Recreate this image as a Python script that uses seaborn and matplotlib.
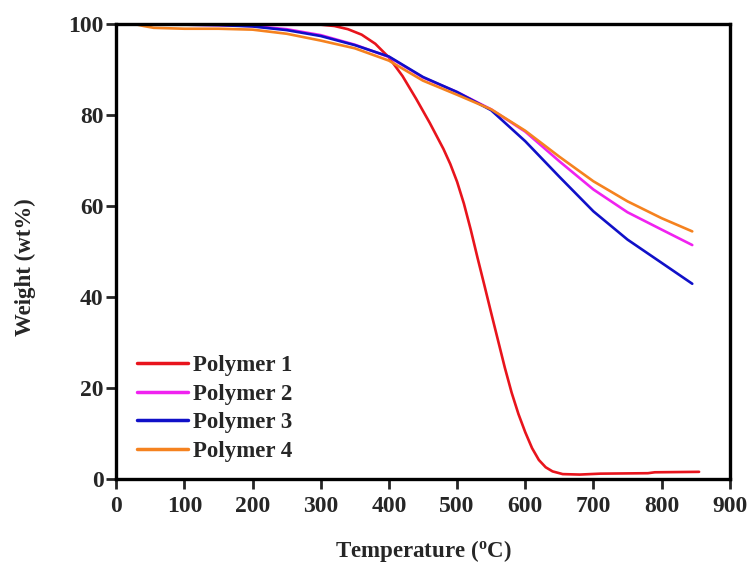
import numpy as np
import pandas as pd
import matplotlib
matplotlib.use("Agg")
import matplotlib.pyplot as plt
import seaborn as sns

# ---- data ----
t_p1 = [30, 100, 200, 300, 320, 340, 360, 380, 400, 420, 440, 460, 480, 490, 500, 510, 520,
        530, 540, 550, 560, 570, 580, 590, 600, 610, 620, 630, 640, 655, 680, 710, 780, 790, 855]
w_p1 = [100, 100, 100, 99.8, 99.5, 98.8, 97.6, 95.6, 92.6, 88.5, 83.5, 78.2, 72.5, 69.2, 65.3, 60.5, 54.8,
        48.6, 42.6, 36.5, 30.5, 24.5, 19.0, 14.3, 10.3, 6.8, 4.2, 2.6, 1.7, 1.1, 1.0, 1.2, 1.3, 1.5, 1.6]

t_p2 = [50, 100, 150, 200, 250, 300, 350, 400, 450, 500, 550, 600, 650, 700, 750, 800, 845]
w_p2 = [99.9, 99.8, 99.7, 99.5, 98.8, 97.5, 95.4, 92.7, 88.2, 85.0, 81.2, 76.3, 69.8, 63.6, 58.6, 54.8, 51.4]

t_p3 = [50, 100, 150, 200, 250, 300, 350, 400, 450, 500, 550, 600, 650, 700, 750, 800, 845]
w_p3 = [100, 99.8, 99.7, 99.4, 98.6, 97.3, 95.3, 92.8, 88.3, 85.0, 81.0, 74.2, 66.4, 58.8, 52.6, 47.5, 42.9]

t_p4 = [28, 40, 55, 100, 150, 200, 250, 300, 350, 400, 450, 500, 550, 600, 650, 700, 750, 800, 845]
w_p4 = [99.9, 99.5, 99.1, 98.9, 98.9, 98.7, 97.8, 96.3, 94.6, 91.9, 87.5, 84.4, 81.2, 76.5, 70.8, 65.4, 61.0, 57.3, 54.4]

labels = ["Polymer 1", "Polymer 2", "Polymer 3", "Polymer 4"]
colors = ["#e8141c", "#f022f0", "#1010c8", "#f5821f"]

x_ticks = [0, 100, 200, 300, 400, 500, 600, 700, 800, 900]
y_ticks = [0, 20, 40, 60, 80, 100]

frames = []
for lab, t, w in zip(labels, [t_p1, t_p2, t_p3, t_p4], [w_p1, w_p2, w_p3, w_p4]):
    frames.append(pd.DataFrame({"T": t, "W": w, "series": lab}))
df = pd.concat(frames, ignore_index=True)

sns.set_style("ticks")
plt.rcParams["font.family"] = ["Liberation Serif", "DejaVu Serif"]
plt.rcParams["font.weight"] = "bold"
plt.rcParams["mathtext.fontset"] = "custom"
plt.rcParams["mathtext.rm"] = "Liberation Serif:bold"
plt.rcParams["mathtext.bf"] = "Liberation Serif:bold"
plt.rcParams["mathtext.it"] = "Liberation Serif:bold"

fig = plt.figure(figsize=(7.5, 5.65), dpi=100)
ax = fig.add_axes([0.155, 0.152, 0.818, 0.806])

sns.lineplot(data=df, x="T", y="W", hue="series", hue_order=labels,
             palette=colors, linewidth=1.9, ax=ax, sort=False, estimator=None)

ax.set_xlim(0, 900)
ax.set_ylim(0, 100)
ax.set_xticks(x_ticks)
ax.set_yticks(y_ticks)
ax.tick_params(axis="both", direction="out", length=7, width=2, labelsize=17,
               top=False, right=False)
ax.tick_params(axis="x", pad=5)
ax.tick_params(axis="y", pad=2)
for lab in ax.get_xticklabels() + ax.get_yticklabels():
    lab.set_fontweight("bold")
for sp in ax.spines.values():
    sp.set_visible(True)
    sp.set_linewidth(2.4)
    sp.set_color("black")

ax.set_xlabel("Temperature ($^{\\mathrm{o}}$C)", fontsize=16.5, fontweight="bold", labelpad=15)
ax.set_ylabel("Weight (wt%)", fontsize=16.5, fontweight="bold")
ax.yaxis.set_label_coords(-0.13, 0.466)

leg = ax.legend(loc="lower left", bbox_to_anchor=(0.034, 0.037), frameon=False,
                fontsize=16.5, handlelength=2.2, handletextpad=0.22, labelspacing=0.34,
                borderpad=0, borderaxespad=0)
for t in leg.get_texts():
    t.set_fontweight("bold")
for h in leg.get_lines():
    h.set_linewidth(2.5)

fig.savefig("out.png", dpi=100)
